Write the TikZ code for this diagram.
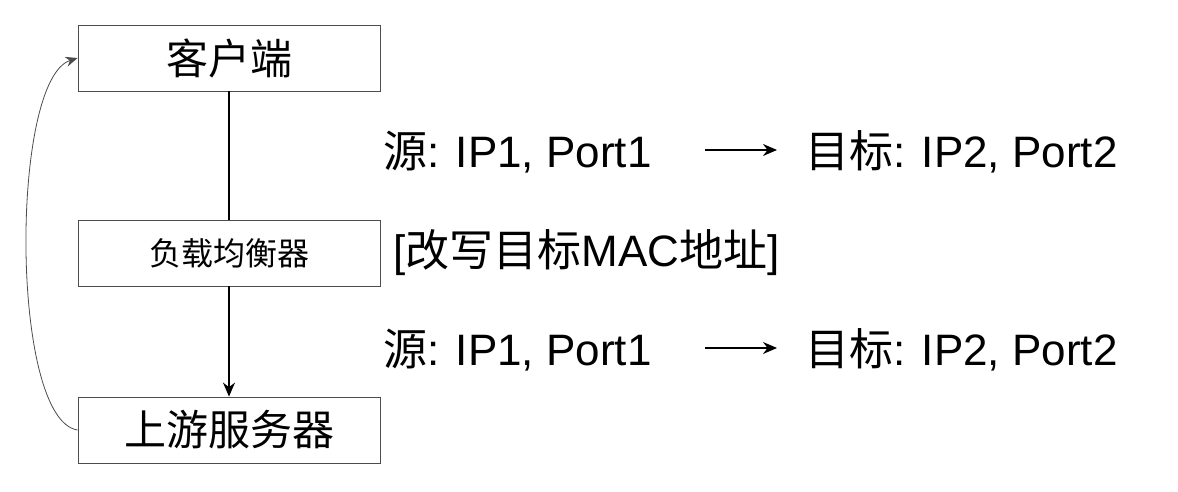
\documentclass[tikz,border=0pt]{standalone}
\usepackage{fontspec}
\setmainfont{Liberation Sans}
\newfontfamily\cjk{Noto Sans CJK SC}
\usetikzlibrary{arrows.meta,positioning}
\tikzset{
  box/.style={draw=black!70,minimum width=151pt,minimum height=33pt,inner sep=0pt,font=\cjk\fontsize{21}{21}\selectfont},
  note/.style={inner sep=0pt,anchor=west,font=\fontsize{22}{22}\selectfont},
  flow/.style={-{Stealth[length=7pt,width=6pt]},line width=0.8pt}
}
\begin{document}
\begin{tikzpicture}[x=0.5pt,y=-0.5pt]
    \useasboundingbox (0,0) rectangle (1178,492);
    % Boxes
    \node[box] (client) at (229,58) {客户端};
    \node[box,font=\cjk\fontsize{16}{16}\selectfont] (lb) at (229,253) {负载均衡器};
    \node[box] (server) at (229,430) {上游服务器};
    % Links
    \draw[line width=0.8pt] (client) -- (lb);
    \draw[flow] (lb) -- (server);
    \draw[-{Stealth[length=6pt,width=5pt]},black!70] (server.west) .. controls (10,420) and (10,80) .. (client.west);
    % Labels
    \node[note] (src1) at (383,152) {{\cjk 源}: IP1, Port1};
    \node[note] (dst1) at (805,152) {{\cjk 目标}: IP2, Port2};
    \node[note] (mac) at (393,253) {[{\cjk 改写目标}MAC{\cjk 地址}]};
    \node[note] (src2) at (383,350) {{\cjk 源}: IP1, Port1};
    \node[note] (dst2) at (805,350) {{\cjk 目标}: IP2, Port2};
    \coordinate (a1) at (705,150);
    \coordinate (b1) at (777,150);
    \coordinate (a2) at (705,348);
    \coordinate (b2) at (777,348);
    \draw[flow] (a1) -- (b1);
    \draw[flow] (a2) -- (b2);
\end{tikzpicture}
\end{document}
